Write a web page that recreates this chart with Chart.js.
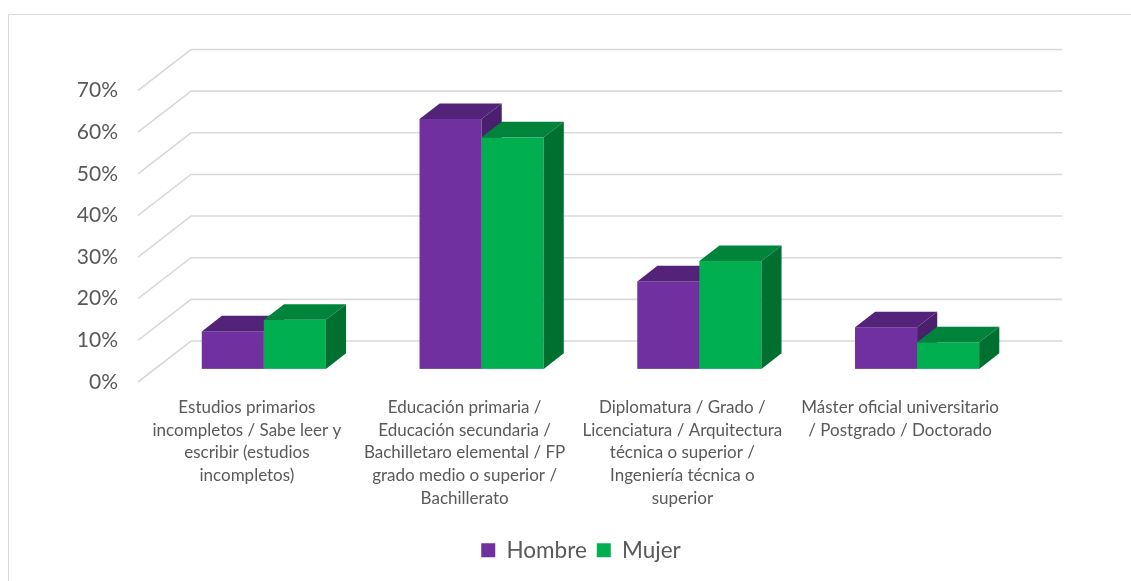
<!DOCTYPE html>
<html>
<head>
<meta charset="utf-8">
<title>Nivel de estudios por sexo</title>
<script src="https://cdn.jsdelivr.net/npm/chart.js@4/dist/chart.umd.min.js"></script>
<style>
  html, body { margin: 0; padding: 0; background: #fff; }
  #wrap { width: 1131px; height: 581px; position: relative; }
</style>
</head>
<body>
<div id="wrap"><canvas id="chart"></canvas></div>
<script>
const categories = [
  ['Estudios primarios', 'incompletos / Sabe leer y', 'escribir (estudios', 'incompletos)'],
  ['Educación primaria /', 'Educación secundaria /', 'Bachilletaro elemental / FP', 'grado medio o superior /', 'Bachillerato'],
  ['Diplomatura / Grado /', 'Licenciatura / Arquitectura', 'técnica o superior /', 'Ingeniería técnica o', 'superior'],
  ['Máster oficial universitario', '/ Postgrado / Doctorado']
];
const hombre = [9.0, 60.0, 21.0, 10.0];
const mujer = [11.8, 55.6, 25.9, 6.4];
const yMax = 70;
const yStep = 10;

// face colours for the 3D columns: front / top / right side
const faces = [
  { front: '#7030A0', top: '#53237A', side: '#4A1F6D' },
  { front: '#00B050', top: '#00843C', side: '#007030' }
];

// depth vector of the floor (front edge to back wall)
const DX = 53, DY = -41;
const BAR_Z = 0.32;     // where the columns start in depth
const BAR_DEPTH = 0.38; // how deep the columns are

Chart.defaults.font.family = 'Lato, "Open Sans", sans-serif';
Chart.defaults.color = '#595959';

const frame3d = {
  id: 'frame3d',
  beforeDraw(chart) {
    const ctx = chart.ctx;
    ctx.save();
    ctx.strokeStyle = '#d9d9d9';
    ctx.lineWidth = 1;
    ctx.beginPath();
    ctx.moveTo(8.5, chart.height);
    ctx.lineTo(8.5, 14.5);
    ctx.lineTo(chart.width, 14.5);
    ctx.stroke();
    ctx.restore();
  },
  beforeDatasetsDraw(chart) {
    const ctx = chart.ctx;
    const area = chart.chartArea;
    const y = chart.scales.y;
    ctx.save();
    ctx.strokeStyle = '#d9d9d9';
    ctx.lineWidth = 1.6;
    y.ticks.forEach(t => {
      const py = y.getPixelForValue(t.value);
      ctx.beginPath();
      ctx.moveTo(area.left, py);
      ctx.lineTo(area.left + DX, py + DY);
      ctx.lineTo(area.right + DX, py + DY);
      ctx.stroke();
    });
    ctx.restore();
  },
  beforeDatasetDraw() {
    // columns are painted by afterDatasetsDraw
    return false;
  },
  afterDatasetsDraw(chart) {
    const ctx = chart.ctx;
    const ox = DX * BAR_Z, oy = DY * BAR_Z;
    const dx = DX * BAR_DEPTH, dy = DY * BAR_DEPTH;
    const metas = chart.data.datasets.map((d, i) => chart.getDatasetMeta(i));
    ctx.save();
    for (let i = 0; i < chart.data.labels.length; i++) {
      metas.forEach((meta, di) => {
        const bar = meta.data[i];
        if (!bar) return;
        const p = bar.getProps(['x', 'y', 'base', 'width'], true);
        const L = p.x - p.width / 2 + ox;
        const R = p.x + p.width / 2 + ox;
        const T = p.y + oy;
        const B = p.base + oy;
        const c = faces[di];
        // front
        ctx.fillStyle = c.front;
        ctx.fillRect(L, T, R - L, B - T);
        // top
        ctx.fillStyle = c.top;
        ctx.beginPath();
        ctx.moveTo(L, T);
        ctx.lineTo(L + dx, T + dy);
        ctx.lineTo(R + dx, T + dy);
        ctx.lineTo(R, T);
        ctx.closePath();
        ctx.fill();
        // right side
        ctx.fillStyle = c.side;
        ctx.beginPath();
        ctx.moveTo(R, T);
        ctx.lineTo(R + dx, T + dy);
        ctx.lineTo(R + dx, B + dy);
        ctx.lineTo(R, B);
        ctx.closePath();
        ctx.fill();
      });
    }
    ctx.restore();
  }
};

new Chart(document.getElementById('chart'), {
  type: 'bar',
  data: {
    labels: categories,
    datasets: [
      { label: 'Hombre', data: hombre, backgroundColor: faces[0].front, yAxisID: 'y' },
      { label: 'Mujer', data: mujer, backgroundColor: faces[1].front, yAxisID: 'y' }
    ]
  },
  options: {
    responsive: true,
    maintainAspectRatio: false,
    animation: false,
    events: [],
    categoryPercentage: 0.57,
    barPercentage: 1.0,
    layout: { padding: { left: 31, right: 0, top: 90.5, bottom: 9.5 } },
    plugins: {
      tooltip: { enabled: false },
      legend: {
        position: 'bottom',
        labels: {
          boxWidth: 14,
          boxHeight: 14,
          padding: 10,
          color: '#595959',
          font: { size: 22.5 }
        }
      }
    },
    scales: {
      x: {
        grid: { display: false },
        border: { display: false },
        ticks: {
          padding: 6,
          maxRotation: 0,
          autoSkip: false,
          color: '#595959',
          font: { size: 17, lineHeight: 1.34 }
        },
        afterFit(scale) { scale.height = 147; }
      },
      y: {
        min: 0,
        max: yMax,
        grid: { display: false },
        border: { display: false },
        ticks: {
          stepSize: yStep,
          padding: 12,
          color: '#595959',
          font: { size: 21 },
          callback: v => v + '%'
        },
        afterFit(scale) { scale.width = 107; }
      },
      // empty axis that keeps room on the right for the back wall
      y2: {
        position: 'right',
        grid: { display: false },
        border: { display: false },
        ticks: { display: false },
        afterFit(scale) { scale.width = 122; }
      }
    }
  },
  plugins: [frame3d]
});
</script>
</body>
</html>
